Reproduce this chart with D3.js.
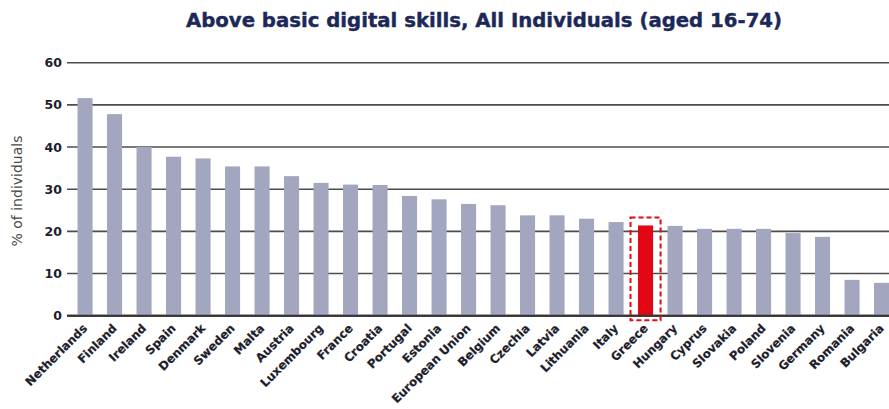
<!DOCTYPE html>
<html>
<head>
<meta charset="utf-8">
<script src="https://cdn.jsdelivr.net/npm/d3@7"></script>
<style>
  html, body { margin: 0; padding: 0; background: #fff; }
  svg { display: block; font-family: "DejaVu Sans", sans-serif; }
</style>
</head>
<body>
<svg id="chart" width="889" height="409"></svg>
<script>
// Share of individuals (16-74) with above basic digital skills, by country
const countries = ["Netherlands", "Finland", "Ireland", "Spain", "Denmark", "Sweden", "Malta",
  "Austria", "Luxembourg", "France", "Croatia", "Portugal", "Estonia", "European Union",
  "Belgium", "Czechia", "Latvia", "Lithuania", "Italy", "Greece", "Hungary", "Cyprus",
  "Slovakia", "Poland", "Slovenia", "Germany", "Romania", "Bulgaria"];
const values = [51.6, 47.8, 40.0, 37.7, 37.3, 35.4, 35.4, 33.1, 31.5, 31.1, 31.0, 28.4,
  27.6, 26.5, 26.2, 23.8, 23.8, 23.0, 22.2, 21.4, 21.3, 20.6, 20.6, 20.6, 19.6, 18.7, 8.5, 7.8];
const yTicks = [0, 10, 20, 30, 40, 50, 60];
const highlighted = "Greece";
const title = "Above basic digital skills, All Individuals (aged 16-74)";
const yLabel = "% of individuals";

const data = countries.map((c, i) => ({ country: c, value: values[i] }));

const W = 889, H = 409;
const svg = d3.select("#chart");

const x = d3.scaleBand()
  .domain(countries)
  .range([70.3, 896.3])
  .paddingInner(0.49)
  .paddingOuter(0.245);

const y = d3.scaleLinear()
  .domain([0, 60])
  .range([315.7, 62.7]);

// Title
svg.append("text")
  .attr("x", 484)
  .attr("y", 27)
  .attr("text-anchor", "middle")
  .attr("font-size", 19.7)
  .attr("font-weight", "bold")
  .attr("fill", "#1c2857")
  .attr("stroke", "#1c2857")
  .attr("stroke-width", 0.4)
  .text(title);

// Horizontal gridlines with tick labels
const grid = svg.append("g");
grid.selectAll("line")
  .data(yTicks)
  .join("line")
  .attr("x1", 67)
  .attr("x2", W)
  .attr("y1", d => y(d))
  .attr("y2", d => y(d))
  .attr("stroke", d => d === 0 ? "#333" : "#4d4d4d")
  .attr("stroke-width", d => d === 0 ? 2 : 1.6);

grid.selectAll("text")
  .data(yTicks)
  .join("text")
  .attr("x", 62)
  .attr("y", d => y(d))
  .attr("dy", "0.36em")
  .attr("text-anchor", "end")
  .attr("font-size", 12.5)
  .attr("font-weight", "bold")
  .attr("fill", "#1d1d2b")
  .text(d => d);

// Y-axis title
svg.append("text")
  .attr("transform", "translate(22,191) rotate(-90)")
  .attr("text-anchor", "middle")
  .attr("font-size", 14)
  .attr("fill", "#4a4a4a")
  .text(yLabel);

// Bars
svg.append("g")
  .selectAll("rect")
  .data(data)
  .join("rect")
  .attr("x", d => x(d.country))
  .attr("width", x.bandwidth())
  .attr("y", d => y(d.value))
  .attr("height", d => y(0) - y(d.value))
  .attr("fill", d => d.country === highlighted ? "#e30613" : "#a3a6bf");

// Baseline redrawn above the bars
svg.append("line")
  .attr("x1", 67).attr("x2", W)
  .attr("y1", y(0)).attr("y2", y(0))
  .attr("stroke", "#333").attr("stroke-width", 2);

// Dashed frame around the highlighted bar
const hv = data.find(d => d.country === highlighted);
svg.append("rect")
  .attr("x", x(hv.country) - 7.5)
  .attr("y", y(hv.value) - 8)
  .attr("width", x.bandwidth() + 15)
  .attr("height", y(0) - y(hv.value) + 12.5)
  .attr("fill", "none")
  .attr("stroke", "#e30613")
  .attr("stroke-width", 2)
  .attr("stroke-dasharray", "5,3");

// Category labels, rotated
svg.append("g")
  .selectAll("text")
  .data(countries)
  .join("text")
  .attr("transform", d => `translate(${x(d) + x.bandwidth() / 2 + 3},${329}) rotate(-45)`)
  .attr("text-anchor", "end")
  .attr("font-size", 11.8)
  .attr("font-weight", "bold")
  .attr("fill", "#1d1d2b")
  .attr("stroke", "#1d1d2b")
  .attr("stroke-width", 0.2)
  .text(d => d);
</script>
</body>
</html>
